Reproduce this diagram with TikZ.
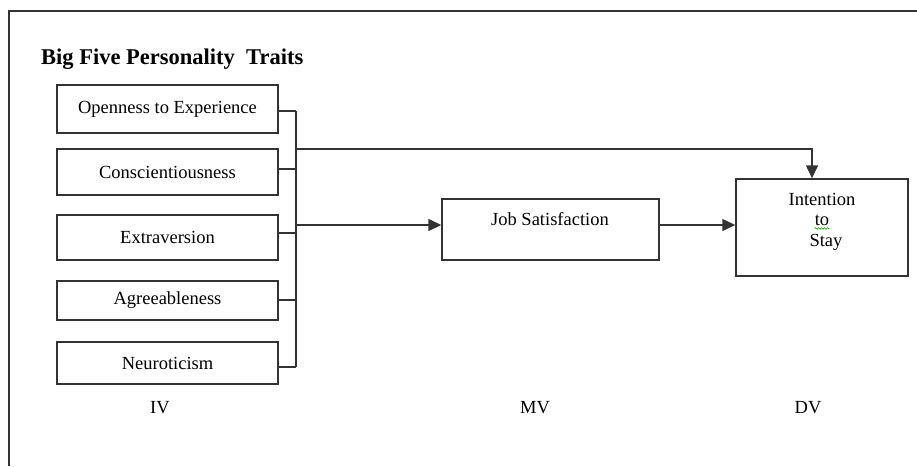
\documentclass[tikz,border=0pt]{standalone}
\usepackage{fontspec}
\setmainfont{Liberation Serif}
\usetikzlibrary{arrows.meta,decorations.pathmorphing,calc}
\begin{document}
\begin{tikzpicture}[x=1pt,y=-1pt,
  line/.style={draw=black!80,line width=1.4pt},
  trait/.style={line,minimum width=221pt,inner sep=0pt,font=\fontsize{18.5}{20}\selectfont},
  boxc/.style={line,inner sep=0pt},
  txt/.style={inner sep=0pt,font=\fontsize{18.5}{20}\selectfont},
  arr/.style={line,-{Triangle[length=13pt,width=12pt]}}]
\useasboundingbox (0,0) rectangle (917,466);
% frame
\draw[line] (917,11) -- (9,11) -- (9,466);
% title
\node[anchor=base west,inner sep=0pt,font=\fontsize{22.5}{26}\selectfont\bfseries] (title) at (41,64) {Big Five Personality\ \ Traits};
% independent variables
\node[trait,minimum height=48pt] (open) at (167.5,109) {Openness to Experience};
\node[trait,minimum height=46pt] (consc) at (167.5,172) {Conscientiousness};
\node[trait,minimum height=45pt] (extra) at (167.5,237.5) {Extraversion};
\node[trait,minimum height=39pt] (agree) at (167.5,300.5) {Agreeableness};
\node[trait,minimum height=42pt] (neuro) at (167.5,363) {Neuroticism};
% mediator and outcome
\node[boxc,minimum width=217pt,minimum height=61pt] (job) at (550.5,229.5) {};
\node[txt] (jobt) at (550,219) {Job Satisfaction};
\node[boxc,minimum width=172pt,minimum height=97pt] (intent) at (822,227.5) {};
\node[txt] (it1) at (822,199) {Intention};
\node[txt] (it2) at (822,220) {to};
\node[txt] (it3) at (826,242) {Stay};
\draw[green!60!black,line width=0.6pt,decorate,decoration={snake,amplitude=0.8pt,segment length=3pt}] ($(it2.south west)+(0,3)$) -- ($(it2.south east)+(0,3)$);
% bus and connectors
\foreach \n/\y in {open/111,consc/169,extra/233,agree/300,neuro/367}{
  \coordinate (c\n) at (296,\y);
  \draw[line] (\n.east |- c\n) -- (c\n);
}
\coordinate (btop) at (296,149);
\coordinate (bmid) at (296,225);
\coordinate (corner) at (812,149);
\draw[line] (copen) -- (cneuro);
\draw[arr] (btop) -- (corner) -- (corner |- intent.north);
\draw[arr] (bmid) -- (bmid -| job.west);
\draw[arr] (job.east |- bmid) -- (intent.west |- bmid);
% level labels
\node[txt] (iv) at (160,408) {IV};
\node[txt] (mv) at (535,408) {MV};
\node[txt] (dv) at (808,408) {DV};
\end{tikzpicture}
\end{document}
